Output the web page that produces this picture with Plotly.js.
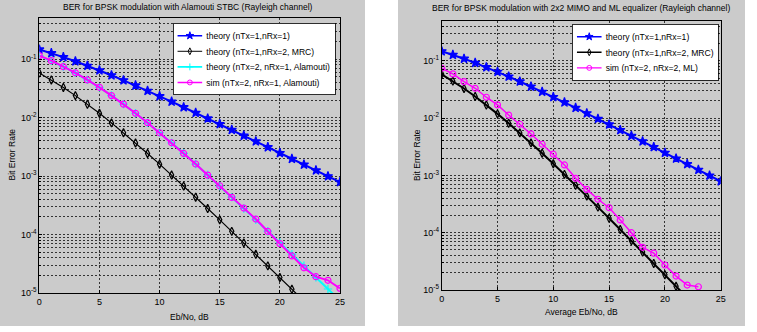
<!DOCTYPE html>
<html>
<head>
<meta charset="utf-8">
<script src="https://cdn.plot.ly/plotly-3.0.1.min.js"></script>
<style>
  html, body { margin: 0; padding: 0; background: #ffffff; }
  #chart { width: 757px; height: 332px; }
</style>
</head>
<body>
<div id="chart"></div>
<script>
// Eb/No axis (dB)
const ebNoDb = [0,1,2,3,4,5,6,7,8,9,10,11,12,13,14,15,16,17,18,19,20,21,22,23,24,25];

// Theoretical BER, 1 transmit / 1 receive antenna (Rayleigh)
const theoryNRx1 = [0.1464,0.1267,0.1085,0.0919,0.0771,0.0642,0.0530,0.0435,0.0355,0.0288,
  0.02327,0.01875,0.01506,0.01208,0.00967,0.00773,0.00616,0.00491,0.00392,0.00312,
  0.00248,0.00197,0.00157,0.00125,0.000992,0.000789];

// Theoretical BER, 1 transmit / 2 receive antennas with MRC
const theoryMrc = [0.0580,0.0441,0.0328,0.02379,0.01692,0.01184,0.00813,0.00551,0.00369,0.00244,
  0.001599,0.001041,0.000674,0.000434,0.000279,0.0001783,0.0001134,0.0000721,0.0000460,0.0000291,
  0.0000184,0.0000116,0.00000739,0.00000468,0.00000295,0.00000187];

// Theoretical BER, Alamouti 2x1
const theoryAlamouti = [0.1151,0.0939,0.0748,0.0582,0.0442,0.03287,0.02386,0.01699,0.01187,0.00816,
  0.00553,0.003697,0.002451,0.001606,0.001046,0.000677,0.000436,0.000279,0.000179,0.0001141,
  0.0000725,0.0000461,0.0000292,0.0000185,0.0000117,0.00000742];

// Simulated BER, Alamouti 2x1
const simAlamouti = [0.1148,0.0942,0.0745,0.0584,0.0441,0.0330,0.0238,0.0170,0.01185,0.00818,
  0.00551,0.00372,0.00244,0.00161,0.00104,0.000683,0.000432,0.000284,0.000184,0.000113,
  0.0000700,0.0000430,0.0000270,0.0000190,0.0000165,0.0000120];

// Simulated BER, 2x2 MIMO with ML equalizer (no errors counted beyond 23 dB)
const ebNoDbMl = [0,1,2,3,4,5,6,7,8,9,10,11,12,13,14,15,16,17,18,19,20,21,22,23];
const simMl = [0.074,0.059,0.0432,0.0331,0.0231,0.0170,0.0113,0.0078,0.00528,0.00349,
  0.00234,0.00152,0.00089,0.00057,0.000383,0.000273,0.000167,0.000100,0.0000556,0.0000440,
  0.0000273,0.0000175,0.0000122,0.0000114];

// Labels
const titleLeft = 'BER for BPSK modulation with Alamouti STBC (Rayleigh channel)';
const titleRight = 'BER for BPSK modulation with 2x2 MIMO and ML equalizer (Rayleigh channel)';
const xLabelLeft = 'Eb/No, dB';
const xLabelRight = 'Average Eb/No, dB';
const yLabel = 'Bit Error Rate';
const namesLeft = ['theory (nTx=1,nRx=1)', 'theory (nTx=1,nRx=2, MRC)',
  'theory (nTx=2, nRx=1, Alamouti)', 'sim (nTx=2, nRx=1, Alamouti)'];
const namesRight = ['theory (nTx=1,nRx=1)', 'theory (nTx=1,nRx=2, MRC)', 'sim (nTx=2, nRx=2, ML)'];
const xTickVals = [0,5,10,15,20,25];
const yTickVals = [1e-5, 1e-4, 1e-3, 1e-2, 1e-1];
const yTickText = ['10<sup>-5</sup>', '10<sup>-4</sup>', '10<sup>-3</sup>', '10<sup>-2</sup>', '10<sup>-1</sup>'];

const W = 757, H = 332;
const FONT = 'Liberation Sans, Arial, sans-serif';
const GRID = '#333333';

// minor log grid positions: digits 2..9 of each decade, up to 0.5
const yMinorVals = [];
for (let e = -5; e <= -1; e++) {
  for (let d = 2; d <= 9; d++) {
    const v = d * Math.pow(10, e);
    if (v > 0.5) break;
    yMinorVals.push(v);
  }
}

const px = x => x / W;
const py = y => 1 - y / H;

function xAxis(x0, x1, anchor) {
  return {
    domain: [px(x0), px(x1)], anchor: anchor, range: [0, 25],
    tickvals: xTickVals, ticks: 'inside', ticklen: 3, tickcolor: '#000',
    showline: true, mirror: true, linecolor: '#000', linewidth: 1,
    showgrid: true, gridcolor: GRID, gridwidth: 1, griddash: '2px,2px',
    zeroline: false, tickfont: {family: FONT, size: 9, color: '#000'}
  };
}
function yAxis(y0, y1, anchor) {
  return {
    domain: [py(y1), py(y0)], anchor: anchor, type: 'log', range: [-5, Math.log10(0.5)],
    tickvals: yTickVals, ticktext: yTickText, ticks: 'inside', ticklen: 3, tickcolor: '#000',
    showline: true, mirror: true, linecolor: '#000', linewidth: 1,
    showgrid: true, gridcolor: GRID, gridwidth: 1, griddash: '2px,2px',
    minor: {tickmode: 'array', tickvals: yMinorVals, ticks: 'inside', ticklen: 2,
      tickcolor: '#000', showgrid: true, gridcolor: GRID, gridwidth: 1, griddash: '2px,2px'},
    zeroline: false, tickfont: {family: FONT, size: 9, color: '#000'}
  };
}

function series(x, y, name, color, symbol, lw, msize, xa, ya, legend) {
  return {
    x: x, y: y, name: name, type: 'scatter', mode: 'lines+markers',
    xaxis: xa, yaxis: ya, legend: legend, cliponaxis: true,
    line: {color: color, width: lw},
    marker: {symbol: symbol, size: msize, color: color, line: {color: color, width: 1.2}}
  };
}

const data = [
  series(ebNoDb, theoryNRx1, namesLeft[0], '#0000ff', 'star', 2, 7, 'x', 'y', 'legend'),
  series(ebNoDb, theoryMrc, namesLeft[1], '#000000', 'diamond-tall-open', 1.2, 6, 'x', 'y', 'legend'),
  series(ebNoDb, theoryAlamouti, namesLeft[2], '#00ffff', 'cross-thin-open', 2, 6, 'x', 'y', 'legend'),
  series(ebNoDb, simAlamouti, namesLeft[3], '#ff00ff', 'circle-open', 2, 6, 'x', 'y', 'legend'),
  series(ebNoDb, theoryNRx1, namesRight[0], '#0000ff', 'star', 2, 7, 'x2', 'y2', 'legend2'),
  series(ebNoDb, theoryMrc, namesRight[1], '#000000', 'diamond-tall-open', 2, 6, 'x2', 'y2', 'legend2'),
  series(ebNoDbMl, simMl, namesRight[2], '#ff00ff', 'circle-open', 1.5, 6, 'x2', 'y2', 'legend2')
];

function ann(text, x, y, size, angle) {
  return {text: text, xref: 'paper', yref: 'paper', x: px(x), y: py(y),
    xanchor: 'center', yanchor: 'middle', showarrow: false, textangle: angle || 0,
    font: {family: FONT, size: size, color: '#000'}};
}

function legendBox(xRight, yTop) {
  return {x: px(xRight), xanchor: 'right', y: py(yTop), yanchor: 'top',
    bgcolor: '#ffffff', bordercolor: '#000', borderwidth: 1,
    font: {family: FONT, size: 10.5, color: '#000'}, tracegroupgap: 0, itemwidth: 30};
}

const layout = {
  width: W, height: H,
  margin: {l: 0, r: 0, t: 0, b: 0},
  paper_bgcolor: '#ffffff', plot_bgcolor: '#ffffff',
  showlegend: true,
  xaxis: xAxis(39.3, 340, 'y'),
  yaxis: yAxis(18.3, 293, 'x'),
  xaxis2: xAxis(441.7, 720.7, 'y2'),
  yaxis2: yAxis(20.7, 290, 'x2'),
  legend: legendBox(336, 23),
  legend2: legendBox(719, 24),
  shapes: [
    {type: 'rect', xref: 'paper', yref: 'paper', x0: 0, x1: px(365), y0: py(326), y1: 1,
      fillcolor: '#cbcbcb', line: {width: 0}, layer: 'below'},
    {type: 'rect', xref: 'paper', yref: 'paper', x0: px(398), x1: px(745), y0: py(326), y1: 1,
      fillcolor: '#cbcbcb', line: {width: 0}, layer: 'below'}
  ],
  annotations: [
    ann(titleLeft, 188, 7.5, 8.5),
    ann(titleRight, 580.5, 8, 8.5),
    ann(xLabelLeft, 189, 316.5, 8.5),
    ann(xLabelRight, 581, 312, 8.5),
    ann(yLabel, 11.5, 155, 8.5, -90),
    ann(yLabel, 417, 155, 8.5, -90)
  ]
};

// Compact legends: shrink each legend box about its top-right corner
function compactLegends(gd) {
  const s = 0.82;
  ['legend', 'legend2'].forEach(id => {
    const g = gd.querySelector('g.' + id);
    if (!g) return;
    const m = /translate\(\s*([-\d.e]+)[\s,]+([-\d.e]+)\s*\)/.exec(g.getAttribute('transform') || '');
    const bg = g.querySelector('rect.bg');
    if (!m || !bg) return;
    const w = parseFloat(bg.getAttribute('width')) || 0;
    const x = parseFloat(m[1]) + w * (1 - s);
    const y = parseFloat(m[2]);
    g.setAttribute('transform', 'translate(' + x + ',' + y + ') scale(' + s + ')');
  });
}

Plotly.newPlot('chart', data, layout, {displayModeBar: false, staticPlot: true})
  .then(compactLegends);
</script>
</body>
</html>
